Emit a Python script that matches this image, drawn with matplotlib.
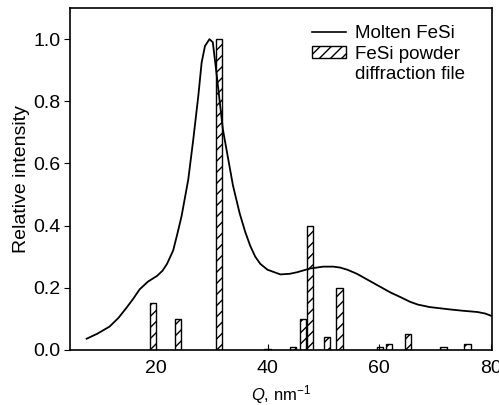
import numpy as np
import matplotlib
matplotlib.use("Agg")
import matplotlib.pyplot as plt
from matplotlib.lines import Line2D

plt.rcParams['font.family'] = ['Liberation Sans', 'DejaVu Sans']
plt.rcParams['hatch.linewidth'] = 1.0
plt.rcParams['mathtext.fontset'] = 'custom'
plt.rcParams['mathtext.it'] = 'Liberation Sans:italic'
plt.rcParams['mathtext.rm'] = 'Liberation Sans'

# Molten FeSi curve
q_melt = [7.6, 9.5, 11.7, 13.3, 14.8, 16.0, 17.1, 18.6, 20.2, 21.2, 22.0, 23.1, 23.8,
          24.6, 25.8, 26.7, 27.6, 28.2, 28.8, 29.6, 30.2, 30.8, 32.0, 32.9, 33.8,
          35.0, 36.0, 36.9, 37.8, 38.7, 40.0, 42.3, 44.0, 45.3, 47.6, 50.0, 51.8,
          53.0, 54.3, 56.0, 57.9, 60.0, 62.0, 63.8, 65.5, 66.9, 69.0, 72.8, 75.0,
          77.6, 79.0, 80.0]
i_melt = [0.036, 0.052, 0.075, 0.103, 0.137, 0.166, 0.195, 0.22, 0.238, 0.255, 0.277, 0.32, 0.37,
          0.43, 0.548, 0.677, 0.817, 0.925, 0.978, 1.0, 0.99, 0.90, 0.71, 0.62, 0.53,
          0.44, 0.38, 0.335, 0.30, 0.277, 0.258, 0.243, 0.245, 0.25, 0.262, 0.268, 0.268,
          0.265, 0.258, 0.245, 0.226, 0.205, 0.185, 0.17, 0.155, 0.146, 0.138, 0.13, 0.126,
          0.122, 0.117, 0.11]

# FeSi powder diffraction file peaks
q_peaks = [19.5, 24.0, 31.3, 40.0, 44.6, 46.4, 47.6, 50.7, 52.9, 60.1, 61.8, 65.1, 71.5, 75.8]
i_peaks = [0.15, 0.10, 1.00, 0.004, 0.01, 0.10, 0.40, 0.04, 0.20, 0.01, 0.02, 0.05, 0.01, 0.02]

fig = plt.figure(figsize=(4.99, 4.05), dpi=100)
ax = fig.add_axes([0.140, 0.136, 0.846, 0.844])

ax.plot(q_melt, i_melt, color='black', lw=1.3, zorder=2)
bars = ax.bar(q_peaks, i_peaks, width=1.1, facecolor='none', edgecolor='black', linewidth=1.0,
              hatch='///', zorder=3)

ax.set_xlim(4.6, 80.2)
ax.set_ylim(0, 1.1)
ax.set_xticks([20, 40, 60, 80])
ax.set_yticks([0.0, 0.2, 0.4, 0.6, 0.8, 1.0])
ax.set_yticklabels(['0.0', '0.2', '0.4', '0.6', '0.8', '1.0'])
ax.tick_params(axis='x', direction='in', length=4, labelsize=14, pad=7)
ax.tick_params(axis='y', direction='out', length=4, labelsize=14, pad=3)
for s in ax.spines.values():
    s.set_linewidth(1.2)

ax.set_xlabel(r'$Q$, nm$^{-1}$', fontsize=12, labelpad=5)
ax.set_ylabel('Relative intensity', fontsize=14, labelpad=2)

handles = [Line2D([], [], color='black', lw=1.2), bars, Line2D([], [], color='none')]
labels = ['Molten FeSi', 'FeSi powder', 'diffraction file']
ax.legend(handles, labels, loc='upper left', bbox_to_anchor=(0.573, 0.950), frameon=False,
          fontsize=13.5, handlelength=1.8, handleheight=0.6, borderpad=0, borderaxespad=0,
          labelspacing=0.18, handletextpad=0.5)

fig.savefig('out.png', dpi=100)
